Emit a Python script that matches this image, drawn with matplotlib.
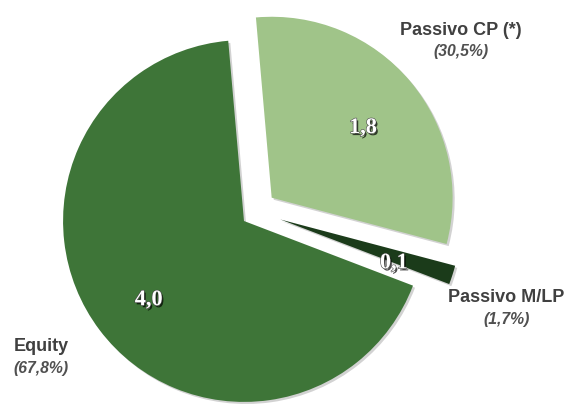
import matplotlib.pyplot as plt
import matplotlib.patheffects as pe

# dati (miliardi)
categorie = ['Equity', 'Passivo M/LP', 'Passivo CP (*)']
valori = [4.0, 0.1, 1.8]
colori = ['#3e7538', '#1b3b1a', '#a0c489']
esplodi = [0.0, 0.2, 0.2]

# posizione delle etichette delle categorie (centro testo)
pos_etichette = [(-1.12, -0.69), (1.45, -0.42), (1.20, 1.06)]


def fmt(v):
    return ('%.1f' % v).replace('.', ',')


def main():
    fig = plt.figure(figsize=(5.77, 4.06), dpi=100)
    ax = fig.add_axes([0, 0, 1, 1])

    totale = sum(valori)
    wedges, _, valtxt = ax.pie(
        valori, colors=colori, explode=esplodi, startangle=95,
        autopct=lambda p: fmt(p * totale / 100.0), pctdistance=0.66,
        radius=1.0, wedgeprops=dict(linewidth=0))

    # spicchio piccolo leggermente piu' in alto
    dx, dy = 0.01, 0.07
    cx, cy = wedges[1].center
    wedges[1].set_center((cx + dx, cy + dy))
    tx, ty = valtxt[1].get_position()
    valtxt[1].set_position((tx + dx, ty + dy))

    for w in wedges:
        w.set_path_effects([pe.SimplePatchShadow(offset=(1.5, -1.5), shadow_rgbFace='#808080', alpha=0.35),
                            pe.Normal()])

    for t in valtxt:
        x, y = t.get_position()
        t.set_position((x, y - 0.04))
        t.set_color('white')
        t.set_fontsize(16)
        t.set_fontweight('bold')
        t.set_family('Liberation Serif')
        t.set_path_effects([pe.withSimplePatchShadow(offset=(1.2, -1.5), shadow_rgbFace='black', alpha=0.7),
                            pe.withStroke(linewidth=0.8, foreground='#444444')])

    for nome, v, (x, y) in zip(categorie, valori, pos_etichette):
        perc = '(' + fmt(100.0 * v / totale) + '%)'
        ax.text(x, y, nome, ha='center', va='center', fontsize=13, fontweight='bold',
                color='#404040', family='Liberation Sans')
        ax.text(x, y - 0.12, perc, ha='center', va='center', fontsize=11.3, fontweight='bold',
                style='italic', color='#505050', family='Liberation Sans')

    ax.set_xlim(-1.348, 1.840)
    ax.set_ylim(-1.017, 1.227)
    ax.set_aspect('equal')
    ax.axis('off')

    fig.savefig('out.png', dpi=100)


if __name__ == '__main__':
    main()
